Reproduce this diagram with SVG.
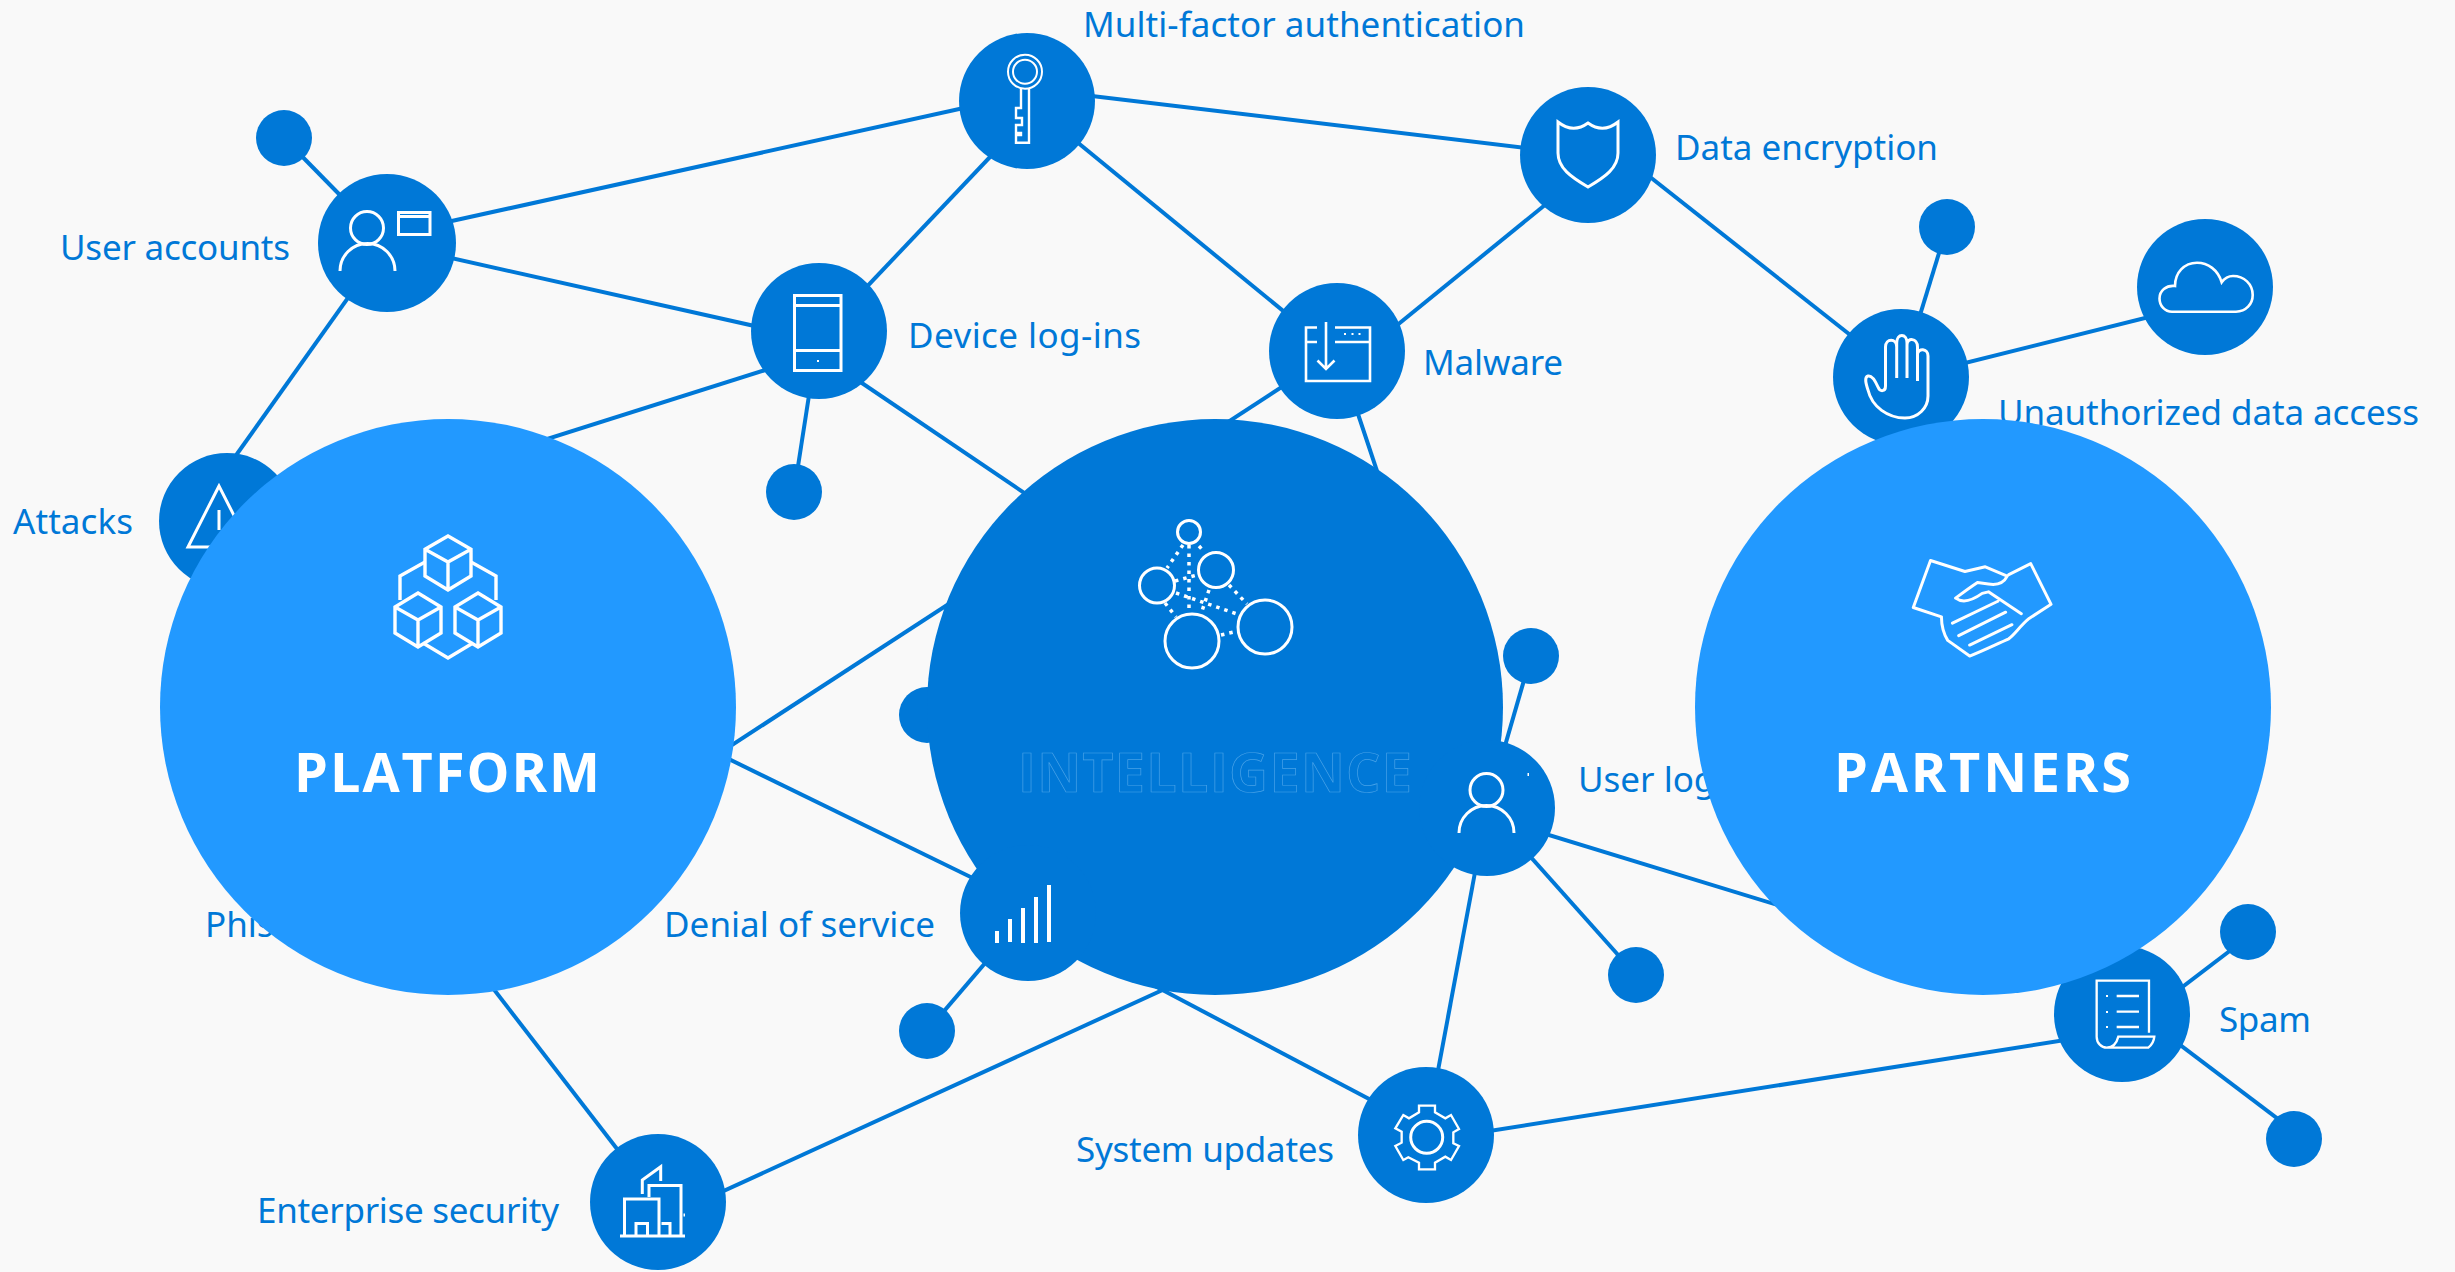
<svg xmlns="http://www.w3.org/2000/svg" width="2455" height="1272" viewBox="0 0 2455 1272">
<style>
.n{fill:#0078d7}
.i{fill:none;stroke:#fff;stroke-width:3;stroke-linejoin:miter}
.t{fill:#fff;stroke:none}
.l{font-family:"Noto Sans","Open Sans","Liberation Sans",sans-serif;font-size:35px;fill:#0078d7}
.h{font-family:"Open Sans","Noto Sans","Liberation Sans",sans-serif;font-size:54px;font-weight:700;fill:#fff;text-anchor:start}
.d{fill:none;stroke:#fff;stroke-width:3.5;stroke-dasharray:3.5 5}
#connectors line{stroke:#0078d7;stroke-width:4}
</style>
<rect width="2455" height="1272" fill="#f9f9f9"/>
<g id="connectors">
<line x1="284" y1="138" x2="387" y2="243"/>
<line x1="420" y1="228" x2="1000" y2="100"/>
<line x1="420" y1="251" x2="790" y2="334"/>
<line x1="387" y1="243" x2="227" y2="468"/>
<line x1="1050" y1="91" x2="1560" y2="152"/>
<line x1="1027" y1="118" x2="840" y2="315"/>
<line x1="1027" y1="101" x2="1337" y2="355"/>
<line x1="1588" y1="170" x2="1337" y2="374"/>
<line x1="1588" y1="128" x2="1901" y2="375"/>
<line x1="1901" y1="377" x2="1947" y2="227"/>
<line x1="1901" y1="379" x2="2205" y2="303"/>
<line x1="819" y1="331" x2="794" y2="492"/>
<line x1="819" y1="353" x2="500" y2="454"/>
<line x1="819" y1="354" x2="1215" y2="622"/>
<line x1="1337" y1="351" x2="448" y2="930"/>
<line x1="1337" y1="351" x2="1420" y2="600"/>
<line x1="448" y1="622" x2="1028" y2="905"/>
<line x1="927" y1="1031" x2="1028" y2="913"/>
<line x1="448" y1="930" x2="658" y2="1202"/>
<line x1="658" y1="1221" x2="1215" y2="966"/>
<line x1="1100" y1="957" x2="1426" y2="1129"/>
<line x1="1426" y1="1141" x2="2122" y2="1031"/>
<line x1="1426" y1="1135" x2="1487" y2="808"/>
<line x1="1487" y1="808" x2="1531" y2="656"/>
<line x1="1487" y1="808" x2="1636" y2="975"/>
<line x1="1487" y1="816" x2="1820" y2="918"/>
<line x1="2122" y1="1033" x2="2248" y2="937"/>
<line x1="2122" y1="1001" x2="2294" y2="1131"/>
</g>
<g id="dots">
<circle class="n" cx="284" cy="138" r="28"/>
<circle class="n" cx="794" cy="492" r="28"/>
<circle class="n" cx="1947" cy="227" r="28"/>
<circle class="n" cx="927" cy="715" r="28"/>
<circle class="n" cx="1531" cy="656" r="28"/>
<circle class="n" cx="927" cy="1031" r="28"/>
<circle class="n" cx="1636" cy="975" r="28"/>
<circle class="n" cx="2248" cy="932" r="28"/>
<circle class="n" cx="2294" cy="1139" r="28"/>
</g>
<g id="node-user-accounts">
<circle class="n" cx="387" cy="243" r="69"/>
<circle class="i" cx="367" cy="228" r="16.5"/>
<path class="i" d="M340 271A27.5 27.5 0 0 1 395 271"/>
<path class="i" d="M398.5 212.5H430V234.5H398.5ZM398.5 216.5H430"/>
<text class="l" x="60" y="260" textLength="230">User accounts</text>
</g>
<g id="node-mfa">
<circle class="n" cx="1027" cy="101" r="68"/>
<circle class="i" cx="1025" cy="71.7" r="17" style="stroke-width:2"/>
<circle class="i" cx="1025" cy="71.7" r="12" style="stroke-width:2"/>
<path class="i" style="stroke-width:2.4" d="M1021 88V108H1016V118H1022V125H1016V133H1021V135H1016V142.7H1029V88"/>
<text class="l" x="1083" y="37" textLength="442">Multi-factor authentication</text>
</g>
<g id="node-data-encryption">
<circle class="n" cx="1588" cy="155" r="68"/>
<path class="i" d="M1558 122Q1573 134 1588 123Q1603 134 1618 122V153C1618 168 1605 177 1588 187C1571 177 1558 168 1558 153Z"/>
<text class="l" x="1675" y="160" textLength="263">Data encryption</text>
</g>
<g id="node-device-logins">
<circle class="n" cx="819" cy="331" r="68"/>
<path class="i" d="M794.5 295.5H841V370.5H794.5ZM794.5 305.5H841M794.5 350.5H841"/>
<rect class="t" x="817" y="360" width="2" height="2"/>
<text class="l" x="908" y="348" textLength="233">Device log-ins</text>
</g>
<g id="node-malware">
<circle class="n" cx="1337" cy="351" r="68"/>
<path class="i" style="stroke-width:2.6" d="M1317 327.5H1306V381H1370V327.5H1335M1306 342H1317M1335 342H1370M1326 322V369M1317.5 360.5L1326 369L1334.5 360.5"/>
<g class="t"><rect x="1344" y="333" width="2" height="2"/><rect x="1351.5" y="333" width="2" height="2"/><rect x="1358.5" y="333" width="2" height="2"/></g>
<text class="l" x="1423" y="375" textLength="140">Malware</text>
</g>
<g id="node-unauthorized">
<circle class="n" cx="1901" cy="377" r="68"/>
<path class="i" d="M1896.7 378V347C1896.7 338 1885.5 338 1885.5 347V386C1885.5 392 1880 392 1878 387C1875 380 1872 375 1868 376C1864 377 1866 384 1868 390C1872 407 1888 418 1905 418C1918 418 1928 408 1928 396V356C1928 348 1918 348 1917.5 354V381M1896.7 347V343C1896.7 333 1907 333 1907 343V378M1907 345C1907 337 1917.5 338 1917.5 347V354"/>
<text class="l" x="1998" y="425" textLength="421">Unauthorized data access</text>
</g>
<g id="node-cloud">
<circle class="n" cx="2205" cy="287" r="68"/>
<path class="i" style="stroke-width:2.6" d="M2172 311.7H2236C2246 311.7 2252.7 304 2252.7 295C2252.7 284 2244 276 2233 276C2228 276 2224 279 2221.7 282.3C2218 270 2208 262.7 2197 262.7C2184 262.7 2175 273 2175 286C2166 285 2159.5 291 2159.5 298.5C2159.5 306 2165 311.7 2172 311.7Z"/>
</g>
<g id="node-attacks">
<circle class="n" cx="227" cy="521" r="68"/>
<path class="i" d="M219 486L188 547H250ZM219 510V530"/>
<text class="l" x="13" y="534" textLength="120">Attacks</text>
</g>
<g id="node-phishing">
<text class="l" x="205" y="937">Phishing</text>
</g>
<g id="node-enterprise">
<circle class="n" cx="658" cy="1202" r="68"/>
<path class="i" d="M620 1236H685M624.5 1236V1199H659V1236M649 1197V1185.5H681V1236M636 1236V1223.5H647.5V1236M661.5 1223.5H670V1236M642.3 1194V1180L660.7 1166.7V1181"/>
<rect class="t" x="683.5" y="1213.5" width="1.5" height="3"/>
<text class="l" x="257" y="1223" textLength="302">Enterprise security</text>
</g>
<g id="node-system-updates">
<circle class="n" cx="1426" cy="1135" r="68"/>
<circle class="i" cx="1426.7" cy="1137.3" r="16"/>
<path class="i" transform="translate(1340 1060) scale(.3333)" style="stroke-width:7" d="M237 137H285V157L316 175L333 165L357 207L340 217V250L357 258L333 300L316 290L285 308V328H237V308L205 292L190 300L166 258L185 248V215L166 205L190 165L207 175L237 157Z"/>
<text class="l" x="1076" y="1162" textLength="258">System updates</text>
</g>
<g id="node-spam">
<circle class="n" cx="2122" cy="1014" r="68"/>
<path class="i" transform="translate(2040 930) scale(.3333)" style="stroke-width:7" d="M327 308V152H170V320C170 340 185 353 200 353H325C335 345 342 332 343 320H235C230 340 220 353 200 353M230 198H297M230 245H297M230 291H297"/>
<g class="t"><rect x="2106" y="995" width="2" height="2"/><rect x="2106" y="1011" width="2" height="2"/><rect x="2106" y="1026" width="2" height="2"/></g>
<text class="l" x="2219" y="1032" textLength="92">Spam</text>
</g>
<g id="node-intelligence">
<circle class="n" cx="1215" cy="707" r="288"/>
<g class="i">
<circle cx="1189" cy="532" r="11.5"/>
<circle cx="1216" cy="570" r="17.5"/>
<circle cx="1157" cy="585.5" r="17.5"/>
<circle cx="1192" cy="641" r="27"/>
<circle cx="1265" cy="627" r="27"/>
</g>
<path class="d" d="M1183 545L1167 568M1199 546L1204.5 552M1189 545V613M1175 581L1197 575M1165 603L1176 617M1176 593L1240 615M1209 590L1202 611M1229 585L1247 604M1221 635L1238 631"/>
<text class="h" x="1018" y="792" textLength="394" style="fill:#0078d7;stroke:#5db0ee;stroke-width:.7;stroke-opacity:.75">INTELLIGENCE</text>
</g>
<g id="node-user-logins">
<circle class="n" cx="1487" cy="808" r="68"/>
<circle class="i" cx="1486.5" cy="790" r="16.5"/>
<path class="i" d="M1459 833A27.5 27.5 0 0 1 1514 833"/>
<rect class="t" x="1527.5" y="773" width="1.5" height="3"/>
<text class="l" x="1578" y="792">User logins</text>
</g>
<g id="node-denial">
<circle class="n" cx="1028" cy="913" r="68"/>
<g class="t">
<rect x="995" y="931" width="4" height="12"/>
<rect x="1008" y="919" width="4" height="23"/>
<rect x="1021" y="908" width="4" height="35"/>
<rect x="1034" y="897" width="4" height="46"/>
<rect x="1047" y="885" width="4" height="57"/>
</g>
<text class="l" x="664" y="937" textLength="271">Denial of service</text>
</g>
<g id="node-platform">
<circle cx="448" cy="707" r="288" fill="#2299ff"/>
<path class="i" style="stroke-width:3.4" d="M448 536L471 549.3V576L448 590L425 576V549.3ZM425 549.3L448 562L471 549.3M448 562V590"/>
<path class="i" style="stroke-width:3.4" d="M418 593L441 607V633L418 647L395 633V607ZM395 607L418 620L441 607M418 620V647"/>
<path class="i" style="stroke-width:3.4" d="M478 593L501 607V633L478 647L455 633V607ZM455 607L478 620L501 607M478 620V647"/>
<path class="i" style="stroke-width:3.4" d="M425 562L400 576V600M471 562L496 576V600M423 643L448 658L473 643"/>
<text class="h" x="294" y="792" textLength="306">PLATFORM</text>
</g>
<g id="node-partners">
<circle cx="1983" cy="707" r="288" fill="#2299ff"/>
<g transform="scale(1.5657)">
<path class="i" style="stroke-width:1.9;stroke-linejoin:round;stroke-linecap:round" d="M1240 394L1222 388L1233 358L1255 365L1268 362L1282 368C1280 372 1276 374 1270 373L1263 372C1257 376 1253 379 1249 382C1253 385 1259 384 1266 379L1270 378L1291 392M1283 367L1297 360L1310 386L1296 395C1290 400 1287 405 1283 408C1276 411 1266 416 1258 419L1244 409C1241 404 1240 398 1240 394M1276 384L1247 398M1281 391L1251 406M1285 399L1258 412"/>
</g>
<text class="h" x="1834" y="792" textLength="297">PARTNERS</text>
</g>
</svg>
